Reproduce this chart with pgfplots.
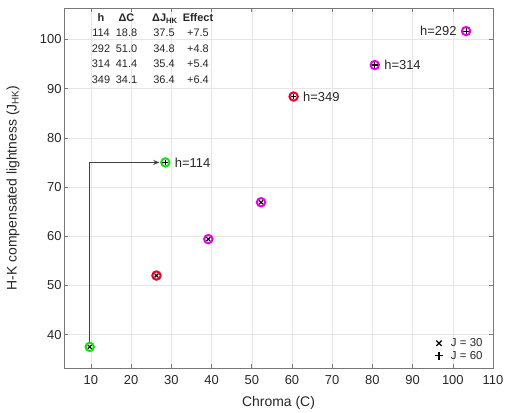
\documentclass[border=0pt]{standalone}
\usepackage{fontspec}
\setmainfont{Liberation Sans}
\usepackage{pgfplots}
\pgfplotsset{compat=1.18}
\usetikzlibrary{arrows.meta}
\definecolor{cgreen}{RGB}{20,225,20}
\definecolor{cred}{RGB}{235,0,40}
\definecolor{cmag}{RGB}{230,0,230}
\definecolor{axgray}{RGB}{120,120,120}
\definecolor{txt}{RGB}{38,38,38}
\begin{document}
\begin{tikzpicture}[x=1bp,y=1bp]
\begin{axis}[
  scale only axis, width=429bp, height=360bp,
  xmin=3.3, xmax=110, ymin=33.2, ymax=106.4,
  xtick={10,20,...,110}, ytick={40,50,...,100},
  grid=major, major grid style={gray!20, line width=0.5bp},
  axis line style={axgray, line width=0.6bp},
  tick style={axgray, line width=0.6bp},
  major tick length=4bp,
  tick align=inside,
  /pgf/number format/assume math mode=true,
  ticklabel style={font=\fontsize{13}{15}\selectfont, text=txt},
  xticklabel style={yshift=-4bp},
  yticklabel style={xshift=1bp},
  xlabel={Chroma (C)},
  ylabel={H-K compensated lightness (J\textsubscript{HK})},
  every axis x label/.style={at={(axis description cs:0.5,-0.0972)}, anchor=center, font=\fontsize{14}{16}\selectfont, text=txt},
  every axis y label/.style={at={(axis description cs:-0.119,0.5)}, anchor=center, rotate=90, font=\fontsize{14}{16}\selectfont, text=txt},
  legend style={draw=none, fill=none, at={(0.983,0.012)}, anchor=south east,
    font=\fontsize{11.5}{13}\selectfont, row sep=-1bp, inner sep=1bp, text=txt,
    /tikz/every odd column/.style={column sep=6bp}},
  legend image post style={mark options={scale=1.4, line width=1.3bp}},
  legend cell align=left,
]
% arrow
\addplot[line width=1bp, color=black!75, -{Stealth[length=6bp, width=5bp]}, forget plot]
  coordinates {(9.7,37.5) (9.7,75.0) (27.0,75.0)};
% rings
\addplot[only marks, mark=*, mark size=4.2bp, mark options={draw=cgreen, fill=white, line width=2bp}, forget plot]
  coordinates {(9.7,37.5) (28.5,75.0)};
\addplot[only marks, mark=*, mark size=4.2bp, mark options={draw=cred, fill=white, line width=2bp}, forget plot]
  coordinates {(26.3,52.0) (60.4,88.4)};
\addplot[only marks, mark=*, mark size=4.2bp, mark options={draw=cmag, fill=white, line width=2bp}, forget plot]
  coordinates {(52.3,66.9) (103.3,101.7) (39.2,59.4) (80.6,94.8)};
% inner markers
\addplot[only marks, mark=x, mark size=2.7bp, mark options={black, line width=1.1bp}]
  coordinates {(9.7,37.5) (26.3,52.0) (52.3,66.9) (39.2,59.4)};
\addlegendentry{J = 30}
\addplot[only marks, mark=+, mark size=2.9bp, mark options={black, line width=1.1bp}]
  coordinates {(28.5,75.0) (60.4,88.4) (103.3,101.7) (80.6,94.8)};
\addlegendentry{J = 60}
% annotations
\node[anchor=west, font=\fontsize{13}{15}\selectfont, text=txt, xshift=6bp] at (axis cs:28.5,75.0) {h=114};
\node[anchor=west, font=\fontsize{13}{15}\selectfont, text=txt, xshift=6bp] at (axis cs:60.4,88.4) {h=349};
\node[anchor=west, font=\fontsize{13}{15}\selectfont, text=txt, xshift=6bp] at (axis cs:80.6,94.8) {h=314};
\node[anchor=east, font=\fontsize{13}{15}\selectfont, text=txt, xshift=-6bp] at (axis cs:103.3,101.7) {h=292};
\end{axis}
% table
\begin{scope}[every node/.style={anchor=base, font=\fontsize{11}{13}\selectfont, text=txt, inner sep=0pt}]
\node at (37,346.3) {\textbf{h}};
\node at (62.5,346.3) {\textbf{ΔC}};
\node at (101,346.3) {\textbf{ΔJ\textsubscript{HK}}};
\node at (134,346.3) {\textbf{Effect}};
\node at (37,331.3) {114}; \node at (62.5,331.3) {18.8}; \node at (100,331.3) {37.5}; \node at (134,331.3) {+7.5};
\node at (37,315.8) {292}; \node at (62.5,315.8) {51.0}; \node at (100,315.8) {34.8}; \node at (134,315.8) {+4.8};
\node at (37,300.3) {314}; \node at (62.5,300.3) {41.4}; \node at (100,300.3) {35.4}; \node at (134,300.3) {+5.4};
\node at (37,284.8) {349}; \node at (62.5,284.8) {34.1}; \node at (100,284.8) {36.4}; \node at (134,284.8) {+6.4};
\end{scope}
\pgfresetboundingbox
\useasboundingbox (-64,-44) rectangle (442,368);
\end{tikzpicture}
\end{document}
